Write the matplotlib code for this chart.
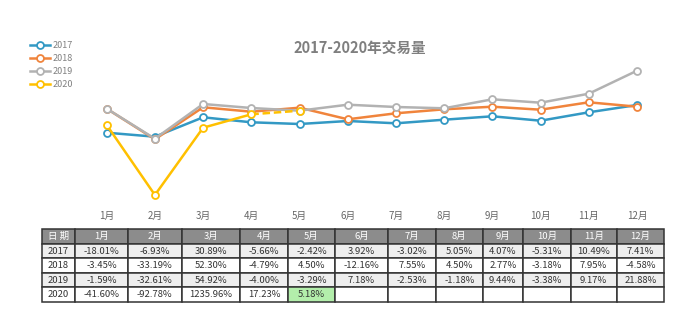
import matplotlib
matplotlib.use("Agg")
import matplotlib.pyplot as plt
from matplotlib.lines import Line2D

plt.rcParams['font.family'] = ['Liberation Sans Narrow', 'Noto Sans CJK SC', 'DejaVu Sans']

months = ["1月", "2月", "3月", "4月", "5月", "6月", "7月", "8月", "9月", "10月", "11月", "12月"]
years = ["2017", "2018", "2019", "2020"]

# trading volume (index; axis is hidden)
vol_2017 = [67.3, 63.3, 82.7, 77.7, 76.0, 79.0, 76.7, 80.3, 83.7, 79.3, 87.7, 95.0]
vol_2018 = [91.3, 60.7, 92.7, 88.3, 92.3, 80.7, 86.7, 90.7, 93.3, 90.3, 97.7, 93.3]
vol_2019 = [91.3, 61.3, 96.0, 92.0, 89.3, 95.3, 93.0, 91.7, 100.7, 97.3, 106.3, 129.3]
vol_2020 = [75.0, 5.0, 72.3, 85.7, 89.3]

# year-on-year change table
yoy_2017 = ["-18.01%", "-6.93%", "30.89%", "-5.66%", "-2.42%", "3.92%", "-3.02%", "5.05%", "4.07%", "-5.31%", "10.49%", "7.41%"]
yoy_2018 = ["-3.45%", "-33.19%", "52.30%", "-4.79%", "4.50%", "-12.16%", "7.55%", "4.50%", "2.77%", "-3.18%", "7.95%", "-4.58%"]
yoy_2019 = ["-1.59%", "-32.61%", "54.92%", "-4.00%", "-3.29%", "7.18%", "-2.53%", "-1.18%", "9.44%", "-3.38%", "9.17%", "21.88%"]
yoy_2020 = ["-41.60%", "-92.78%", "1235.96%", "17.23%", "5.18%", "", "", "", "", "", "", ""]

colors = {"2017": "#3399c4", "2018": "#f0843c", "2019": "#b2b2b2", "2020": "#ffc000"}

fig = plt.figure(figsize=(7, 3.23), dpi=100)

# line chart
W, H = 700.0, 323.0
ax = fig.add_axes([82.6 / W, (H - 205) / H, 578.5 / W, 145 / H])
x = list(range(len(months)))
mk = dict(marker="o", markersize=5, markerfacecolor="white", markeredgewidth=1.3)

ax.plot(x, vol_2017, color=colors["2017"], lw=1.8, markeredgecolor=colors["2017"], **mk)
ax.plot(x, vol_2018, color=colors["2018"], lw=1.8, markeredgecolor=colors["2018"], **mk)
ax.plot(x, vol_2019, color=colors["2019"], lw=1.8, markeredgecolor=colors["2019"], **mk)
ax.plot(x[:4], vol_2020[:4], color=colors["2020"], lw=1.8, zorder=3)
ax.plot(x[3:5], vol_2020[3:5], color=colors["2020"], lw=1.8, ls=(0, (3, 1.5)), zorder=3)
ax.plot(x[:5], vol_2020, color=colors["2020"], lw=0, markeredgecolor=colors["2020"], zorder=4, **mk)

ax.set_xlim(-0.5, 11.5)
ax.set_ylim(-5, 140)
ax.set_xticks(x)
ax.set_xticklabels(months, fontsize=7, color="#666666")
ax.tick_params(axis="x", length=0, pad=4)
ax.set_yticks([])
for s in ax.spines.values():
    s.set_visible(False)

fig.text(360 / W, (H - 48) / H, "2017-2020年交易量", ha="center", va="center",
         fontsize=10.5, fontweight="bold", color="#7f7f7f", family=["Noto Sans CJK SC"])

handles = [Line2D([], [], color=colors[y], lw=1.8, markeredgecolor=colors[y], **mk) for y in years]
fig.legend(handles, years, loc="upper left", bbox_to_anchor=(22 / W, (H - 33) / H),
           frameon=False, fontsize=6.5, handlelength=2.2, handletextpad=0.3,
           labelspacing=0.45, labelcolor="#808080")

# table
tax = fig.add_axes([41.7 / W, (H - 302) / H, 622.3 / W, 72.7 / H])
tax.axis("off")
rows = [["2017"] + yoy_2017, ["2018"] + yoy_2018, ["2019"] + yoy_2019, ["2020"] + yoy_2020]
col_w = [33.3, 53, 53.7, 58.3, 48, 47, 53, 48, 46.7, 40.3, 47.7, 46, 47.3]
tbl = tax.table(cellText=rows, colLabels=["日 期"] + months, colWidths=col_w,
                bbox=[0, 0, 1, 1], cellLoc="center")
tbl.auto_set_font_size(False)
for (r, c), cell in tbl.get_celld().items():
    cell.set_edgecolor("#333333")
    cell.set_linewidth(1.1)
    cell.get_text().set_fontsize(6.8)
    if r == 0:
        cell.set_facecolor("#8c8c8c")
        cell.get_text().set_color("white")
    else:
        cell.get_text().set_color("#333333")
        cell.set_facecolor("#eeeeee" if r in (1, 3) else "white")
tbl[(4, 5)].set_facecolor("#b3eeab")

fig.savefig("out.png", dpi=100)
